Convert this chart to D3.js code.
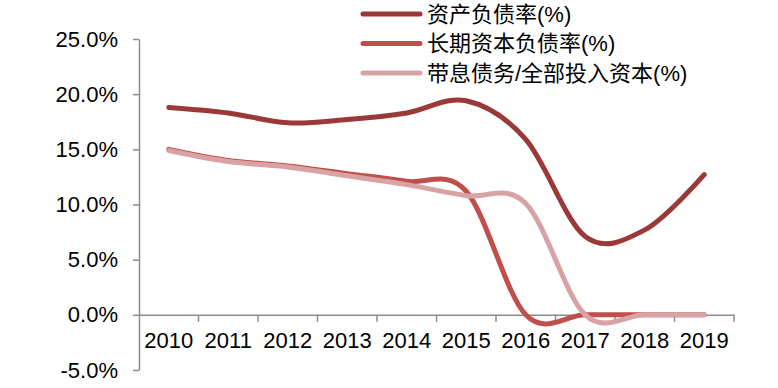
<!DOCTYPE html>
<html lang="zh">
<head>
    <meta charset="UTF-8">
    <title>资产负债率</title>
    <style>
        body { margin: 0; background: #fff; }
        text { font-family: "Liberation Sans", Arial, "Noto Sans CJK SC", sans-serif; }
        .axis path, .axis line { stroke: #8c8c8c; stroke-width: 1.5; }
        .axis text { font-size: 22px; fill: #000; }
        .series { fill: none; stroke-width: 5; stroke-linecap: round; }
    </style>
</head>
<body>
    <script src="https://d3js.org/d3.v7.min.js"></script>
    <script>
        // data
        const years = ['2010', '2011', '2012', '2013', '2014', '2015', '2016', '2017', '2018', '2019'];
        const assetDebt = [18.8, 18.3, 17.4, 17.7, 18.3, 19.4, 15.9, 7.1, 7.7, 12.7];
        const longCapDebt = [15.0, 14.0, 13.5, 12.8, 12.1, 11.2, 0.0, 0.0, 0.0, 0.0];
        const interestDebt = [14.9, 13.9, 13.4, 12.6, 11.8, 10.8, 10.1, 0.0, 0.0, 0.0];
        const seriesNames = ['资产负债率(%)', '长期资本负债率(%)', '带息债务/全部投入资本(%)'];
        const colors = ['#9b3838', '#c04f4c', '#d9a3a5'];
        const yTicks = [-5, 0, 5, 10, 15, 20, 25];

        const width = 778;
        const height = 388;
        const margin = { top: 39, right: 44, bottom: 18, left: 139 };

        const svg = d3.select('body').append('svg')
            .attr('width', width)
            .attr('height', height);

        const x = d3.scaleBand()
            .domain(years)
            .range([margin.left, width - margin.right]);

        const y = d3.scaleLinear()
            .domain([-5, 25])
            .range([height - margin.bottom, margin.top]);

        // y axis
        svg.append('g')
            .attr('class', 'axis')
            .attr('transform', `translate(${margin.left},0)`)
            .call(d3.axisLeft(y).tickValues(yTicks).tickSize(6).tickSizeOuter(0).tickPadding(15)
                .tickFormat((d) => d.toFixed(1) + '%'));

        // x axis sits on zero, tick marks on band edges
        const xAxis = svg.append('g')
            .attr('class', 'axis')
            .attr('transform', `translate(0,${y(0)})`)
            .call(d3.axisBottom(x).tickSize(0).tickSizeOuter(0).tickPadding(18));

        xAxis.selectAll('.edge')
            .data(years.slice(1).map((d) => x(d)).concat([x.range()[1]]))
            .enter()
            .append('line')
            .attr('class', 'edge')
            .attr('x1', (d) => d)
            .attr('x2', (d) => d)
            .attr('y1', 0)
            .attr('y2', 7);

        // lines
        const line = d3.line()
            .x((d, i) => x(years[i]) + x.bandwidth() / 2)
            .y((d) => y(d))
            .curve(d3.curveCatmullRom.alpha(0));

        const allSeries = [assetDebt, longCapDebt, interestDebt];

        svg.selectAll('.series')
            .data(allSeries)
            .enter()
            .append('path')
            .attr('class', 'series')
            .attr('stroke', (d, i) => colors[i])
            .attr('d', line);

        // legend
        const legend = svg.append('g').attr('transform', 'translate(363,14)');
        const item = legend.selectAll('g')
            .data(seriesNames)
            .enter()
            .append('g')
            .attr('transform', (d, i) => `translate(0,${i * 29.5})`);

        item.append('line')
            .attr('x1', 0)
            .attr('x2', 57)
            .attr('stroke', (d, i) => colors[i])
            .attr('stroke-width', 5)
            .attr('stroke-linecap', 'round');

        item.append('text')
            .attr('x', 64)
            .attr('dy', '0.35em')
            .style('font-size', '22px')
            .text((d) => d);
    </script>
</body>
</html>
